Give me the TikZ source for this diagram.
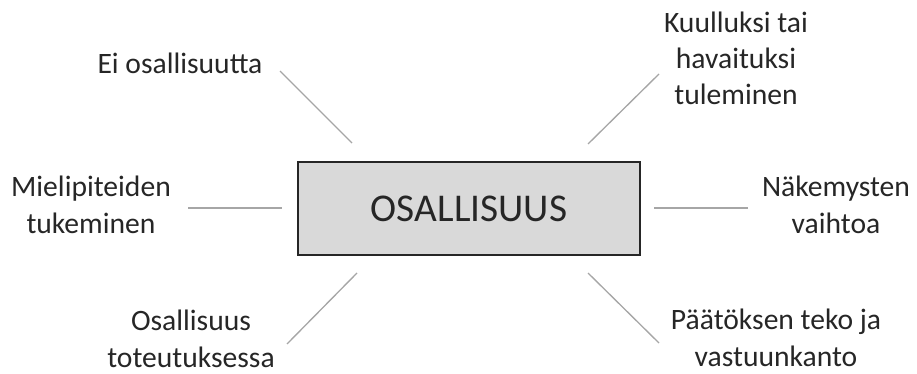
\documentclass[tikz,border=0pt]{standalone}
\usepackage{fontspec}
\setmainfont{Carlito}
\usepackage{tikz}
\usetikzlibrary{positioning}
\definecolor{osgray}{RGB}{217,217,217}
\definecolor{osline}{RGB}{166,166,166}
\definecolor{ostext}{RGB}{38,38,38}
\tikzstyle{core} = [rectangle, minimum width=256.5pt, minimum height=69.75pt, text centered, draw=black!85, fill=osgray, line width=1.1pt, text=ostext, font=\fontsize{29.5}{35}\selectfont]
\tikzstyle{level} = [align=center, inner sep=0pt, anchor=base, text=ostext, font=\fontsize{22.2}{27.2}\selectfont]
\tikzstyle{spoke} = [line width=1pt, color=osline]

\begin{document}
\begin{tikzpicture}[x=0.75pt, y=-0.75pt]
\useasboundingbox (0,0) rectangle (917,374);
% Central node
\node[core] (center) at (469,208.5) {OSALLISUUS};

% Six levels (anchored at the baseline of the last line)
\node[level] (none) at (180,74) {Ei osallisuutta};
\node[level] (heard) at (736,105) {Kuulluksi tai\\havaituksi\\tuleminen};
\node[level] (support) at (91,233) {Mielipiteiden\\tukeminen};
\node[level] (views) at (836,233) {Näkemysten\\vaihtoa};
\node[level] (implement) at (191,367) {Osallisuus\\toteutuksessa};
\node[level] (decide) at (776,366) {Päätöksen teko ja\\vastuunkanto};

% Line ends
\coordinate (none-a) at (280,71);
\coordinate (none-b) at (352,143);
\coordinate (heard-a) at (659,74);
\coordinate (heard-b) at (588,144);
\coordinate (support-a) at (188,208);
\coordinate (support-b) at (282,208);
\coordinate (views-a) at (748,208);
\coordinate (views-b) at (654,208);
\coordinate (implement-a) at (287,344);
\coordinate (implement-b) at (357,273);
\coordinate (decide-a) at (659,343);
\coordinate (decide-b) at (588,273);

% Lines
\draw[spoke] (none-a) -- (none-b);
\draw[spoke] (heard-a) -- (heard-b);
\draw[spoke] (support-a) -- (support-b);
\draw[spoke] (views-a) -- (views-b);
\draw[spoke] (implement-a) -- (implement-b);
\draw[spoke] (decide-a) -- (decide-b);
\end{tikzpicture}
\end{document}
